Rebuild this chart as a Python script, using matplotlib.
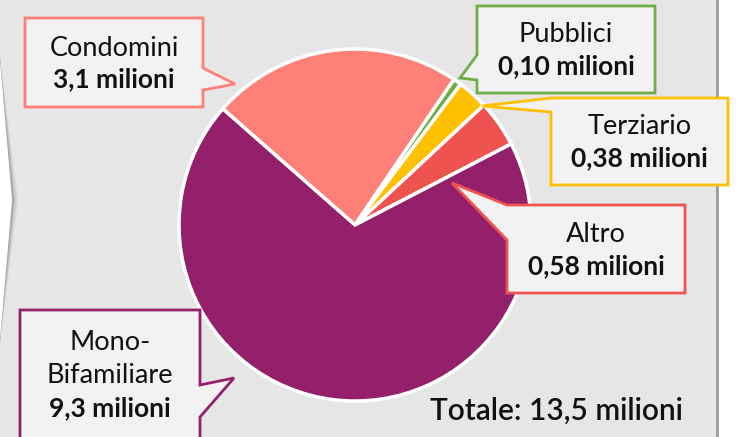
import matplotlib
matplotlib.use("Agg")
import matplotlib.pyplot as plt
from matplotlib.patches import Polygon, Rectangle

# data
labels = ["Condomini", "Pubblici", "Terziario", "Altro", "Mono-\nBifamiliare"]
values = [3.1, 0.10, 0.38, 0.58, 9.3]
value_txt = ["3,1 milioni", "0,10 milioni", "0,38 milioni", "0,58 milioni", "9,3 milioni"]
colors = ["#ff7f79", "#70ad47", "#ffc000", "#ef5350", "#94206c"]
total_txt = "Totale: 13,5 milioni"

W, H = 738, 437
fig = plt.figure(figsize=(W / 100, H / 100), dpi=100)
fig.patch.set_facecolor("white")
ax = fig.add_axes([0, 0, 1, 1])

def Y(y):
    # image pixel row -> axis coordinate
    return H - y

# background panel
ax.add_patch(Rectangle((0, 0), 717, H, facecolor="#e6e6e6", edgecolor="none", zorder=0))
ax.plot([717, 717], [0, H], color="#9a9a9a", lw=2, zorder=1)
# left chevron (end of previous arrow)
for off, c in [(5, "#dadada"), (3.5, "#cdcdcd"), (2, "#bdbdbd"), (1, "#aaaaaa")]:
    ax.add_patch(Polygon([(0, Y(58)), (13 + off, Y(200)), (0, Y(342))], closed=True,
                         facecolor=c, edgecolor="none", zorder=1))
ax.add_patch(Polygon([(0, Y(60)), (12, Y(200)), (0, Y(340))], closed=True,
                     facecolor="white", edgecolor="none", zorder=1))

# pie
ax.pie(values, colors=colors, startangle=138.7, counterclock=False,
       center=(355, Y(225)), radius=176,
       wedgeprops=dict(edgecolor="white", linewidth=2.5), frame=True)

# callouts: box (x0, y0, x1, y1), side, pointer base (two y's), tip
callouts = [
    ((25, 18, 203, 107), "right", (68, 90), (235, 84)),
    ((477, 6, 655, 93), "left", (55, 80), (460, 78)),
    ((551, 98, 728, 185), "left", (98, 112), (482, 106)),
    ((507, 205, 685, 293), "left", (205, 240), (452, 183)),
    ((20, 310, 200, 445), "right", (385, 417), (234, 378)),
]

name_kw = dict(ha="center", va="baseline", fontsize=19.5, family="Lato",
               weight="normal", color="#111111", zorder=6)
val_kw = dict(ha="center", va="baseline", fontsize=19, family="Lato",
              weight="bold", color="#111111", zorder=6)

for (box, side, base, tip), lab, val, col in zip(callouts, labels, value_txt, colors):
    x0, y0, x1, y1 = box
    if side == "right":
        pts = [(x0, y0), (x1, y0), (x1, base[0]), tip, (x1, base[1]), (x1, y1), (x0, y1)]
    else:
        pts = [(x0, y0), (x1, y0), (x1, y1), (x0, y1), (x0, base[1]), tip, (x0, base[0])]
    pts = [(px, Y(py)) for px, py in pts]
    ax.add_patch(Polygon(pts, closed=True, facecolor="#f2f2f2", edgecolor=col,
                         lw=2, zorder=5))
    cx = (x0 + x1) / 2
    lines = lab.split("\n")
    if len(lines) == 1:
        ymid = (y0 + y1) / 2
        ax.text(cx, Y(ymid - 7), lines[0], **name_kw)
        ax.text(cx, Y(ymid + 25), val, **val_kw)
    else:
        ax.text(cx, Y(y0 + 40), lines[0], **name_kw)
        ax.text(cx, Y(y0 + 73), lines[1], **name_kw)
        ax.text(cx, Y(y0 + 106), val, **val_kw)

ax.text(683, Y(420), total_txt, ha="right", va="baseline", fontsize=21.5,
        family="Lato", weight="semibold", color="#111111", zorder=6)

ax.set_xlim(0, W)
ax.set_ylim(0, H)
ax.set_aspect("equal")
ax.axis("off")

fig.savefig("out.png", dpi=100)
